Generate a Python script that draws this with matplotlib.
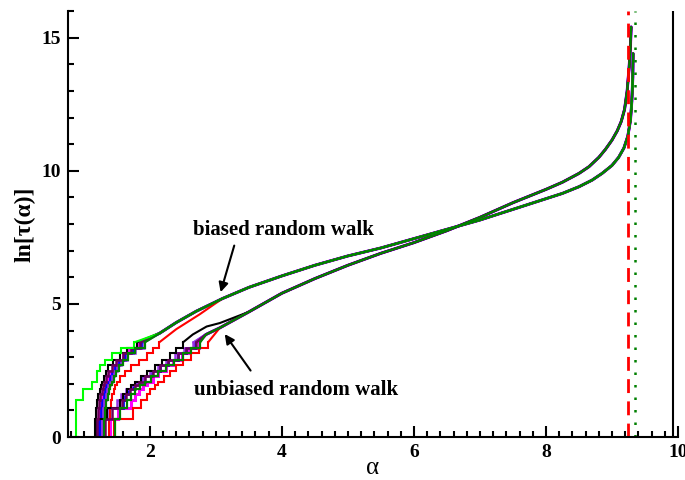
import matplotlib
matplotlib.use("Agg")
import matplotlib.pyplot as plt
from matplotlib.ticker import MultipleLocator

plt.rcParams['font.family'] = 'serif'
plt.rcParams['font.serif'] = ['Liberation Serif', 'DejaVu Serif']

# discrete ln(tau) levels of the staircase part
step_levels = [0, 0.69, 1.10, 1.39, 1.61, 1.79, 1.95, 2.08, 2.30, 2.48, 2.70, 2.90, 3.15, 3.35, 3.55]

# biased random walk: alpha at which each level is reached
b_lime    = [0.88, 0.88, 0.88, 0.88, 0.99, 0.99, 1.12, 1.12, 1.20, 1.20, 1.24, 1.32, 1.42, 1.57, 1.76]
b_black   = [1.17, 1.17, 1.18, 1.20, 1.22, 1.24, 1.26, 1.28, 1.30, 1.33, 1.37, 1.44, 1.55, 1.66, 1.80]
b_purple  = [1.20, 1.20, 1.21, 1.23, 1.25, 1.27, 1.29, 1.31, 1.34, 1.37, 1.42, 1.49, 1.59, 1.71, 1.85]
b_magenta = [1.23, 1.23, 1.24, 1.26, 1.28, 1.30, 1.32, 1.34, 1.36, 1.39, 1.44, 1.50, 1.59, 1.69, 1.83]
b_blue    = [1.25, 1.25, 1.26, 1.28, 1.30, 1.32, 1.34, 1.36, 1.39, 1.42, 1.47, 1.54, 1.63, 1.74, 1.87]
b_violet  = [1.28, 1.28, 1.29, 1.31, 1.33, 1.35, 1.37, 1.39, 1.42, 1.45, 1.50, 1.57, 1.66, 1.77, 1.91]
b_green   = [1.31, 1.31, 1.32, 1.34, 1.36, 1.38, 1.40, 1.42, 1.45, 1.48, 1.53, 1.59, 1.67, 1.78, 1.92]
b_red     = [1.38, 1.38, 1.39, 1.41, 1.43, 1.45, 1.47, 1.50, 1.55, 1.63, 1.72, 1.84, 1.95, 2.04, 2.14]
b_red_mid_a = [2.40, 2.75]
b_red_mid_y = [4.05, 4.60]

# unbiased random walk
ub_black   = [1.20, 1.20, 1.35, 1.55, 1.60, 1.66, 1.72, 1.77, 1.86, 1.96, 2.08, 2.18, 2.30, 2.40, 2.50]
ub_black_mid_a = [2.65, 2.86, 3.06]
ub_black_mid_y = [3.85, 4.15, 4.28]
ub_blue    = [1.22, 1.22, 1.30, 1.60, 1.62, 1.67, 1.74, 1.80, 1.90, 2.02, 2.16, 2.28, 2.42, 2.55, 2.68]
ub_violet  = [1.27, 1.27, 1.35, 1.50, 1.57, 1.64, 1.72, 1.80, 1.90, 2.00, 2.12, 2.24, 2.38, 2.52, 2.66]
ub_purple  = [1.32, 1.32, 1.42, 1.58, 1.64, 1.70, 1.77, 1.83, 1.93, 2.04, 2.16, 2.28, 2.42, 2.55, 2.70]
ub_magenta = [1.40, 1.40, 1.52, 1.72, 1.78, 1.84, 1.90, 1.96, 2.04, 2.13, 2.24, 2.35, 2.48, 2.60, 2.74]
ub_green   = [1.47, 1.47, 1.55, 1.66, 1.72, 1.78, 1.85, 1.92, 2.02, 2.12, 2.24, 2.36, 2.50, 2.62, 2.76]
ub_red     = [1.45, 1.45, 1.74, 1.87, 1.95, 2.00, 2.08, 2.13, 2.22, 2.30, 2.40, 2.50, 2.62, 2.75, 2.88]

# smooth upper parts shared by each group
b_tail_a = [2.15, 2.40, 2.70, 3.10, 3.50, 4.00, 4.50, 5.00, 5.50, 6.00, 6.50, 7.00, 7.50, 8.00,
            8.25, 8.50, 8.70, 8.85, 9.00, 9.10, 9.18, 9.24, 9.28, 9.30, 9.315, 9.32]
b_tail_y = [3.90, 4.30, 4.72, 5.20, 5.62, 6.05, 6.45, 6.80, 7.10, 7.45, 7.80, 8.15, 8.55, 8.95,
            9.15, 9.40, 9.65, 9.90, 10.20, 10.50, 10.85, 11.30, 11.90, 12.60, 13.50, 14.40]
ub_tail_a = [2.85, 3.06, 3.50, 4.00, 4.50, 5.00, 5.50, 6.00, 6.50, 7.00, 7.50, 8.00, 8.25, 8.50,
             8.65, 8.80, 8.90, 9.00, 9.08, 9.14, 9.19, 9.23, 9.26, 9.28, 9.29]
ub_tail_y = [3.85, 4.10, 4.70, 5.40, 5.95, 6.45, 6.90, 7.30, 7.75, 8.25, 8.80, 9.30, 9.57, 9.90,
             10.15, 10.50, 10.80, 11.15, 11.50, 11.85, 12.30, 13.00, 13.90, 14.70, 15.40]

# reference lines
alpha_dashed = 9.24
alpha_dotted = 9.35
alpha_solid = 9.92

fig = plt.figure(figsize=(6.85, 4.8), dpi=100)
ax = fig.add_axes([68/685, 43/480, 610/685, 426/480])


def draw(steps, tail_a, tail_y, color, lw, mid_a=(), mid_y=()):
    ax.plot(steps, step_levels, drawstyle='steps-post', color=color, lw=lw,
            solid_joinstyle='miter')
    xs = [steps[-1]] + list(mid_a)
    ys = [step_levels[-1]] + list(mid_y)
    last = xs[-1]
    for a, y in zip(tail_a, tail_y):
        if a > last:
            xs.append(a)
            ys.append(y)
    ax.plot(xs, ys, color=color, lw=lw, solid_capstyle='round', solid_joinstyle='round')


series = [
    ('#ff00ff', 2.2, b_magenta, ub_magenta, (), (), (), ()),
    ('#0000ff', 2.0, b_blue, ub_blue, (), (), (), ()),
    ('#9932e6', 1.8, b_violet, ub_violet, (), (), (), ()),
    ('#ff0000', 1.5, b_red, ub_red, b_red_mid_a, b_red_mid_y, (), ()),
    ('#000000', 1.5, b_black, ub_black, (), (), ub_black_mid_a, ub_black_mid_y),
    ('#6b005a', 1.8, b_purple, ub_purple, (), (), (), ()),
    ('#00ff00', 1.5, b_lime, None, (), (), (), ()),
    ('#008000', 1.6, b_green, ub_green, (), (), (), ()),
]
for color, lw, bs, us, bma, bmy, uma, umy in series:
    draw(bs, b_tail_a, b_tail_y, color, lw, bma, bmy)
    if us is not None:
        draw(us, ub_tail_a, ub_tail_y, color, lw, uma, umy)

ax.axvline(alpha_dashed, color='#ff0000', lw=2.0, ls=(0, (5, 3)))
ax.axvline(alpha_dotted, color='#008000', lw=1.8, ls=(0, (1, 4)))
ax.axvline(alpha_solid, color='black', lw=1.5)

ax.set_xlim(0.76, 10.0)
ax.set_ylim(0, 16)
ax.xaxis.set_major_locator(MultipleLocator(2))
ax.xaxis.set_minor_locator(MultipleLocator(0.2))
ax.yaxis.set_major_locator(MultipleLocator(5))
ax.yaxis.set_minor_locator(MultipleLocator(1))
ax.tick_params(which='both', direction='in', width=1.5, top=False, right=False)
ax.tick_params(which='major', length=8, labelsize=14, pad=5)
ax.tick_params(which='minor', length=4)
for lab in ax.get_xticklabels() + ax.get_yticklabels():
    lab.set_fontweight('bold')
for s in ['top', 'right']:
    ax.spines[s].set_visible(False)
for s in ['left', 'bottom']:
    ax.spines[s].set_linewidth(1.5)

ax.set_xlabel('α', fontsize=18, labelpad=-3)
ax.set_ylabel('ln[τ(α)]', fontsize=17, fontweight='bold', labelpad=4)

ax.text(4.02, 7.78, 'biased random walk', fontsize=15, fontweight='bold',
        ha='center', va='center')
ax.text(4.21, 1.77, 'unbiased random walk', fontsize=15, fontweight='bold',
        ha='center', va='center')
ax.annotate('', xy=(3.06, 5.34), xytext=(3.29, 7.29),
            arrowprops=dict(arrowstyle='-|>', color='black', lw=1.5, mutation_scale=14))
ax.annotate('', xy=(3.11, 3.95), xytext=(3.55, 2.41),
            arrowprops=dict(arrowstyle='-|>', color='black', lw=1.5, mutation_scale=14))

fig.savefig('out.png', dpi=100)
